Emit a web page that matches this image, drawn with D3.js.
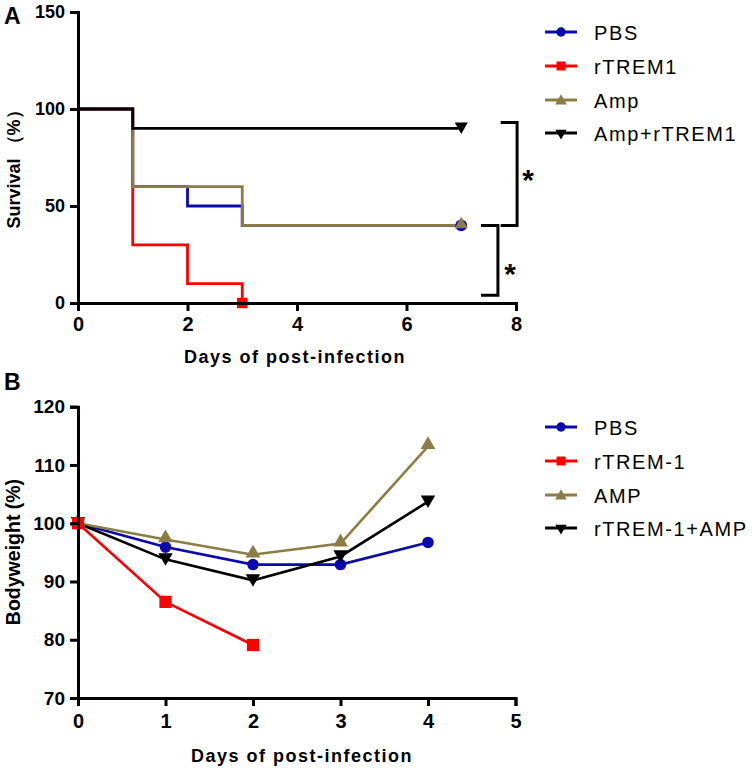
<!DOCTYPE html>
<html><head><meta charset="utf-8">
<script src="https://cdn.jsdelivr.net/npm/d3@7"></script>
<style>
body{margin:0;background:#fff;}
svg{display:block;font-family:"Liberation Sans",Arial,sans-serif;}
</style></head>
<body>
<svg id="chart" width="756" height="768"></svg>
<script>
// ---------- Panel A data (Kaplan-Meier survival) ----------
const survivalGroups = ["PBS", "rTREM1", "Amp", "Amp+rTREM1"];
const survivalDays = [
  [0, 1, 2, 3, 7],
  [0, 1, 2, 3],
  [0, 1, 3, 7],
  [0, 1, 7]
];
const survivalValues = [
  [100, 60, 50, 40, 40],
  [100, 30, 10, 0],
  [100, 60, 40, 40],
  [100, 90, 90]
];
const survivalXTicks = [0, 2, 4, 6, 8];
const survivalYTicks = [0, 50, 100, 150];

// ---------- Panel B data (bodyweight) ----------
const weightGroups = ["PBS", "rTREM-1", "AMP", "rTREM-1+AMP"];
const weightDays = [0, 1, 2, 3, 4];
const weightPBS = [100, 95.9, 92.9, 92.9, 96.7];
const weightRTREM = [100, 86.5, 79.1];
const weightAMP = [100, 97.2, 94.6, 96.5, 113.2];
const weightCombo = [100, 93.8, 90.2, 94.3, 103.7];
const weightXTicks = [0, 1, 2, 3, 4, 5];
const weightYTicks = [70, 80, 90, 100, 110, 120];

// significance brackets (panel A): [x0, x1, yTop, yBottom]
const brackets = [[7.72, 8.02, 93, 40], [7.36, 7.67, 40, 4]];

const colors = ["#0a0aae", "#ff0000", "#8c7d46", "#000000"];
const symbols = [d3.symbolCircle, d3.symbolSquare, d3.symbolTriangle, d3.symbolTriangle];
const rotations = [0, 0, 0, 180];

const svg = d3.select("#chart");

function styleAxis(g, fs) {
  g.select(".domain").attr("stroke", "#000").attr("stroke-width", 3);
  g.selectAll(".tick line").attr("stroke", "#000").attr("stroke-width", 3);
  g.selectAll(".tick text").attr("fill", "#000").attr("font-weight", "bold")
    .attr("font-size", fs).attr("font-family", "'Liberation Sans',Arial,sans-serif");
}

function drawMarker(g, x, y, i, size) {
  g.append("path")
    .attr("d", d3.symbol().type(symbols[i]).size(size)())
    .attr("transform", `translate(${x},${y}) rotate(${rotations[i]})`)
    .attr("fill", colors[i]);
}

function legend(g, labels, x0, ys, sizes) {
  labels.forEach((lab, i) => {
    g.append("line").attr("x1", x0).attr("x2", x0 + 32).attr("y1", ys[i]).attr("y2", ys[i])
      .attr("stroke", colors[i]).attr("stroke-width", 3);
    drawMarker(g, x0 + 16, ys[i] + (i === 2 ? 1 : 0), i, sizes[i]);
    g.append("text").attr("x", x0 + 49).attr("y", ys[i] + 7.5).text(lab)
      .attr("font-size", 20).attr("letter-spacing", "1.6px").attr("fill", "#000");
  });
}

// ---------- Panel A ----------
const xA = d3.scaleLinear().domain([0, 8]).range([78, 516]);
const yA = d3.scaleLinear().domain([0, 150]).range([303, 12]);
const gA = svg.append("g");

const stepLine = d3.line().curve(d3.curveStepAfter).x(d => xA(d[0])).y(d => yA(d[1]));
const markerSizesA = [110, 110, 75, 75];
survivalGroups.forEach((name, i) => {
  const pts = survivalDays[i].map((d, j) => [d, survivalValues[i][j]]);
  gA.append("path").attr("d", stepLine(pts)).attr("fill", "none")
    .attr("stroke", colors[i]).attr("stroke-width", 2.8);
});
survivalGroups.forEach((name, i) => {
  const n = survivalDays[i].length - 1;
  const last = [survivalDays[i][n], survivalValues[i][n]];
  drawMarker(gA, xA(last[0]), yA(last[1]) + (i === 2 ? -1 : (i === 3 ? -2 : 0)), i, markerSizesA[i]);
});

gA.append("g").attr("transform", `translate(0,${yA(0)})`)
  .call(d3.axisBottom(xA).tickValues(survivalXTicks).tickSizeOuter(0).tickSize(8).tickPadding(6).tickFormat(d3.format("d")))
  .call(g => styleAxis(g, 20));
gA.append("g").attr("transform", `translate(${xA(0)},0)`)
  .call(d3.axisLeft(yA).tickValues(survivalYTicks).tickSizeOuter(0).tickSize(8).tickPadding(5).tickFormat(d3.format("d")))
  .call(g => styleAxis(g, 18));

brackets.forEach(b => {
  gA.append("path")
    .attr("d", `M${xA(b[0])},${yA(b[2])}H${xA(b[1])}V${yA(b[3])}H${xA(b[0])}`)
    .attr("fill", "none").attr("stroke", "#000").attr("stroke-width", 3);
});
gA.append("text").attr("x", 528).attr("y", 190).attr("text-anchor", "middle")
  .attr("font-size", 30).attr("font-weight", "bold").text("*");
gA.append("text").attr("x", 510).attr("y", 284).attr("text-anchor", "middle")
  .attr("font-size", 30).attr("font-weight", "bold").text("*");

gA.append("text").attr("x", 295).attr("y", 363).attr("text-anchor", "middle")
  .attr("font-size", 18).attr("font-weight", "bold").attr("letter-spacing", "1.5px")
  .text("Days of post-infection");
gA.append("text").attr("transform", "translate(20,165) rotate(-90)").attr("text-anchor", "middle")
  .attr("font-size", 18).attr("font-weight", "bold").text("Survival （%）");
gA.append("text").attr("x", 4).attr("y", 24).attr("font-size", 23).attr("font-weight", "bold").text("A");

legend(gA, survivalGroups, 545, [32, 66, 100, 133], [70, 80, 60, 55]);

// ---------- Panel B ----------
const xB = d3.scaleLinear().domain([0, 5]).range([78, 515.5]);
const yB = d3.scaleLinear().domain([70, 120]).range([698, 406.7]);
const gB = svg.append("g");
const weightSeries = [weightPBS, weightRTREM, weightAMP, weightCombo];
const line = d3.line().x((d, j) => xB(weightDays[j])).y(d => yB(d));
const markerSizesB = [105, 150, 95, 90];

weightSeries.forEach((vals, i) => {
  gB.append("path").attr("d", line(vals)).attr("fill", "none")
    .attr("stroke", colors[i]).attr("stroke-width", 2.6);
});
[0, 2, 3, 1].forEach(i => {
  weightSeries[i].forEach((v, j) => drawMarker(gB, xB(weightDays[j]), yB(v) + (i === 2 ? -1.5 : (i === 3 ? -2 : 0)), i, markerSizesB[i]));
});

gB.append("g").attr("transform", `translate(0,${yB(70)})`)
  .call(d3.axisBottom(xB).tickValues(weightXTicks).tickSizeOuter(0).tickSize(8).tickPadding(8).tickFormat(d3.format("d")))
  .call(g => styleAxis(g, 20));
gB.append("g").attr("transform", `translate(${xB(0)},0)`)
  .call(d3.axisLeft(yB).tickValues(weightYTicks).tickSizeOuter(0).tickSize(8).tickPadding(5).tickFormat(d3.format("d")))
  .call(g => styleAxis(g, 19));

gB.append("text").attr("x", 302).attr("y", 762).attr("text-anchor", "middle")
  .attr("font-size", 18).attr("font-weight", "bold").attr("letter-spacing", "1.5px")
  .text("Days of post-infection");
gB.append("text").attr("transform", "translate(20,552) rotate(-90)").attr("text-anchor", "middle")
  .attr("font-size", 19.5).attr("font-weight", "bold").text("Bodyweight (%)");
gB.append("text").attr("x", 4).attr("y", 390).attr("font-size", 23).attr("font-weight", "bold").text("B");

legend(gB, weightGroups, 545, [427, 461, 495, 528], [70, 80, 60, 55]);
</script>
</body></html>
